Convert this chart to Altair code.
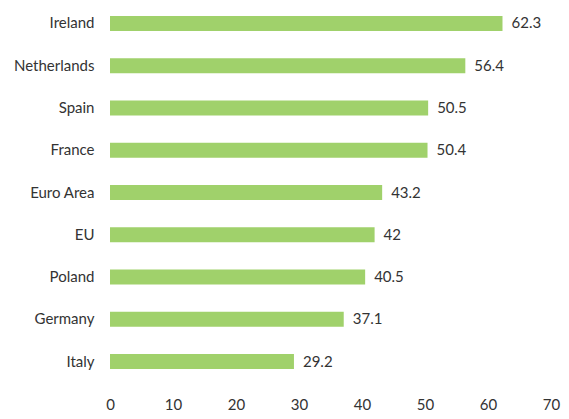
import altair as alt
import pandas as pd

countries = ["Ireland", "Netherlands", "Spain", "France", "Euro Area", "EU", "Poland", "Germany", "Italy"]
values = [62.3, 56.4, 50.5, 50.4, 43.2, 42, 40.5, 37.1, 29.2]
x_ticks = [0, 10, 20, 30, 40, 50, 60, 70]

df = pd.DataFrame({"country": countries, "value": values})

FONT = "Lato"
FS = 15

y = alt.Y("country:N", sort=countries, title=None,
          scale=alt.Scale(paddingInner=0.645, paddingOuter=0.14),
          axis=alt.Axis(domain=False, ticks=False, labelPadding=16, labelFontSize=FS,
                        labelFont=FONT, labelColor="#333333"))
x = alt.X("value:Q", title=None,
          scale=alt.Scale(domain=[0, 70], nice=False),
          axis=alt.Axis(values=x_ticks, domain=False, ticks=False, grid=False, labelPadding=22,
                        labelFlush=False, labelFontSize=FS, labelFont=FONT, labelColor="#333333"))

bars = alt.Chart(df).mark_bar(color="#a0d16b").encode(x=x, y=y)
labels = alt.Chart(df).mark_text(align="left", dx=9, fontSize=FS, font=FONT, color="#333333").encode(
    x="value:Q", y=alt.Y("country:N", sort=countries), text=alt.Text("value:Q"))

chart = (bars + labels).properties(
    width=441, height=365,
    autosize=alt.AutoSizeParams(type="none"),
    padding={"left": 102, "top": 2, "right": 10, "bottom": 36},
).configure_view(stroke=None)

chart.save("out.html", embed_options={"renderer": "svg", "actions": False})
